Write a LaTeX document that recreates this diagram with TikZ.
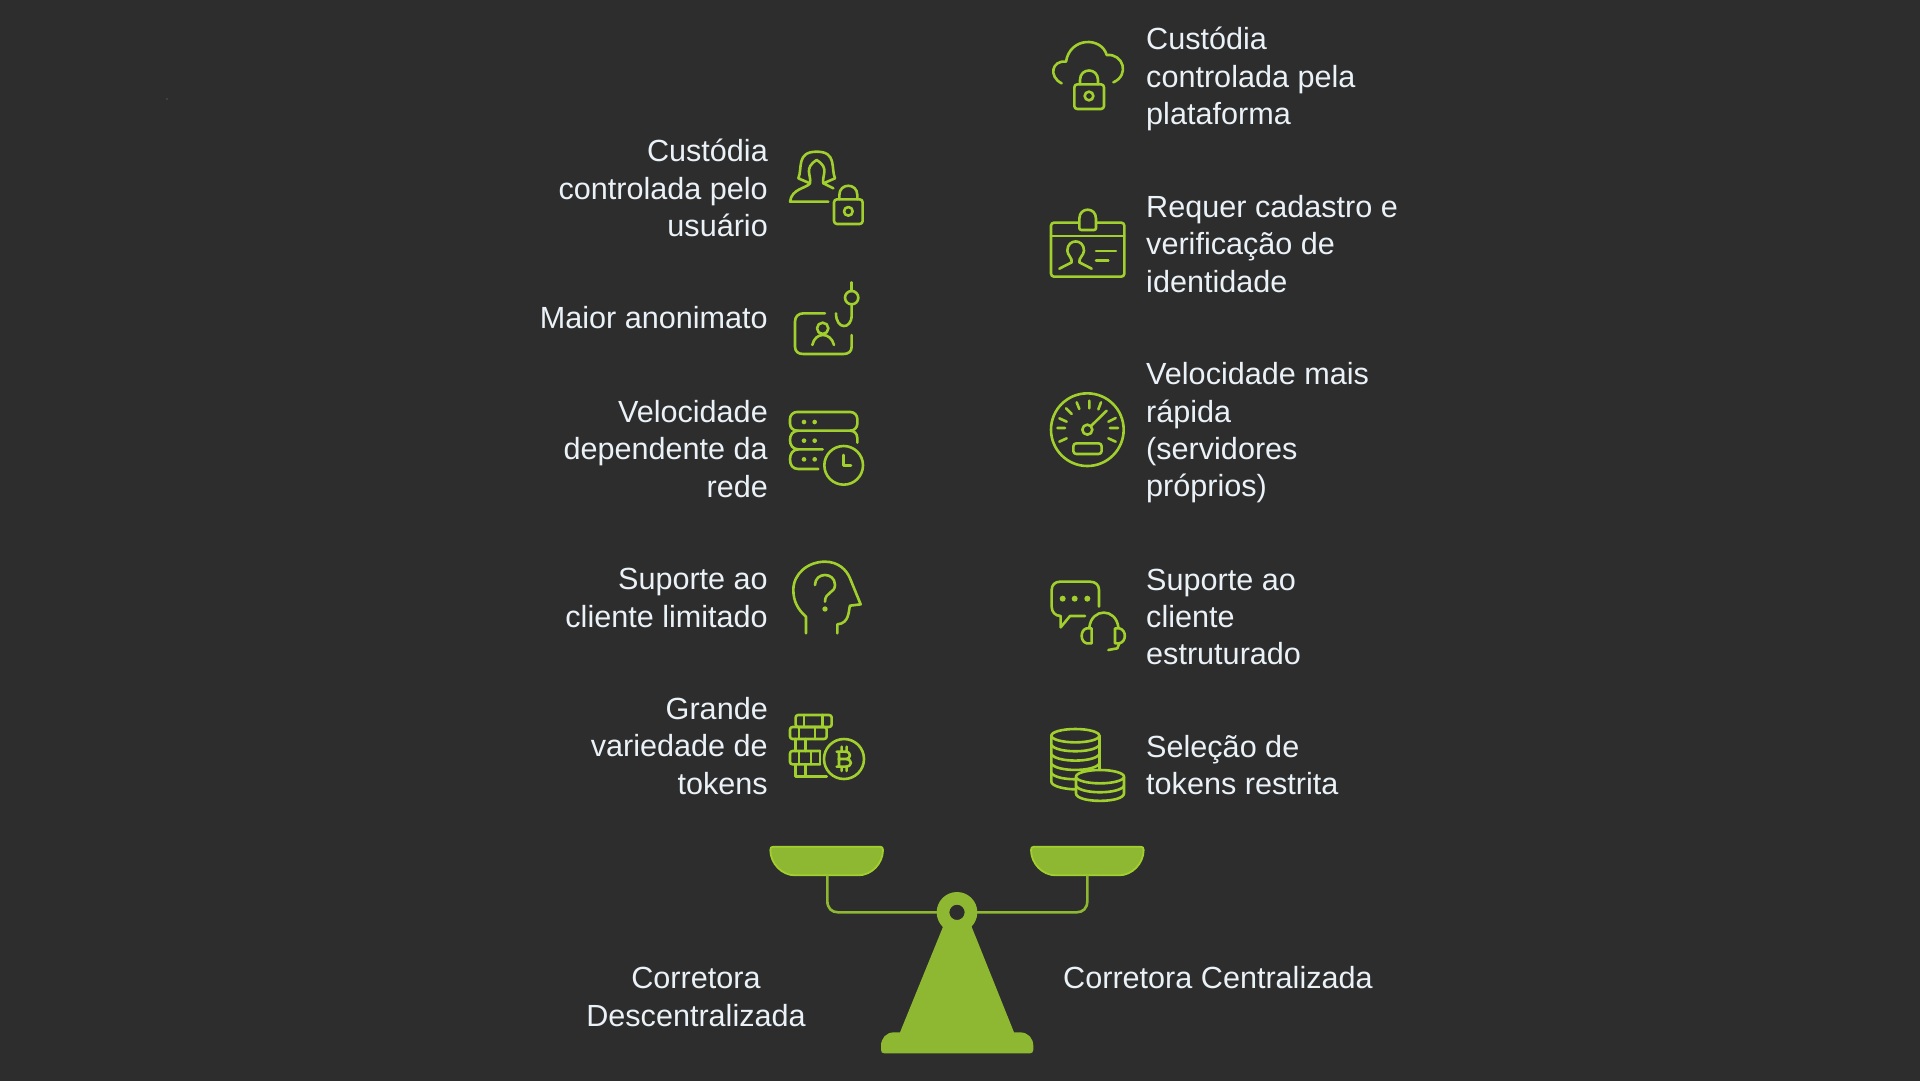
\documentclass[tikz,border=0pt]{standalone}
\usepackage{fontspec}
\setmainfont{Liberation Sans}
\definecolor{bgc}{HTML}{2D2D2D}
\definecolor{lime}{HTML}{A0CF2E}
\definecolor{pan}{HTML}{8FB832}
\definecolor{txt}{HTML}{EAF1F7}
\tikzset{
  lbl/.style={text=txt,inner sep=0pt,font=\fontsize{30.6}{37.3}\selectfont},
  lblr/.style={lbl,align=right,anchor=east},
  lbll/.style={lbl,align=left,anchor=west},
  ic/.style={draw=lime,line width=2.6pt,line cap=round,line join=round},
  dot/.style={fill=lime,draw=none},
  zoomed/.style={shift={#1},x=.33333pt,y=-.33333pt},
}
\begin{document}
\begin{tikzpicture}[x=1pt,y=-1pt]
\useasboundingbox (0,0) rectangle (1920,1080);
\fill[bgc] (-3,-3) rectangle (1923,1083);
\fill[gray] (167,99) circle (0.6);
% labels
\node[lblr] (l1) at (768,188) {Custódia\\controlada pelo\\usuário};
\node[lblr] (l2) at (768,318) {Maior anonimato};
\node[lblr] (l3) at (768,449) {Velocidade\\dependente da\\rede};
\node[lblr] (l4) at (768,598) {Suporte ao\\cliente limitado};
\node[lblr] (l5) at (768,746) {Grande\\variedade de\\tokens};
\node[lbll] (r1) at (1146,79) {Custódia\\controlada pela\\plataforma};
\node[lbll] (r2) at (1146,244) {Requer cadastro e\\verificação de\\identidade};
\node[lbll] (r3) at (1146,433) {Velocidade mais\\rápida\\(servidores\\próprios)};
\node[lbll] (r4) at (1146,617) {Suporte ao\\cliente\\estruturado};
\node[lbll] (r5) at (1146,765) {Seleção de\\tokens restrita};
\node[lbl,align=center] (dex) at (696,997) {Corretora\\Descentralizada};
\node[lbll] (cex) at (1063,978) {Corretora Centralizada};
% user + lock, hook
\begin{scope}[zoomed={(760,130)}]
\draw[ic] (150,160) -- (115,145) .. controls (128,115) and (108,65) .. (170,65) .. controls (232,65) and (212,115) .. (225,145) -- (190,160) -- (220,175);
\draw[ic] (150,160) .. controls (155,135) and (130,115) .. (170,90) .. controls (210,115) and (185,135) .. (190,160);
\draw[ic] (150,160) .. controls (140,175) and (95,175) .. (90,215) -- (205,215);
\draw[ic,rounded corners=3pt] (222,208) rectangle (308,282);
\draw[ic] (238,208) -- (238,195) .. controls (238,158) and (292,158) .. (292,195) -- (292,208);
\draw[ic] (265,244) circle[radius=13];
\draw[ic] (195,550) -- (130,550) .. controls (115,550) and (105,560) .. (105,575) -- (105,650) .. controls (105,665) and (115,672) .. (130,672) -- (250,672) .. controls (265,672) and (275,665) .. (275,650) -- (275,615);
\draw[ic] (188,595) circle[radius=17];
\draw[ic] (157,645) .. controls (165,605) and (212,605) .. (222,645);
\draw[ic] (275,457) -- (275,483);
\draw[ic] (275,503) circle[radius=20];
\draw[ic] (275,523) -- (275,555) .. controls (275,600) and (228,600) .. (228,550);
\end{scope}
% server + clock, head
\begin{scope}[zoomed={(770,390)}]
\draw[ic,rounded corners=7pt] (60,66) rectangle (262,122);
\draw[ic] (262,158) -- (262,145) .. controls (262,130) and (252,122) .. (240,122);
\draw[ic] (85,122) .. controls (68,122) and (60,135) .. (60,150) .. controls (60,165) and (68,178) .. (85,178) -- (158,178);
\draw[ic] (85,178) .. controls (68,178) and (60,192) .. (60,208) .. controls (60,225) and (68,237) .. (85,237) -- (145,237);
\foreach \yy in {96,152,208}{\fill[dot] (102,\yy) circle[radius=7]; \fill[dot] (134,\yy) circle[radius=7];}
\draw[ic] (221,226) circle[radius=58];
\draw[ic] (220,195) -- (220,227) -- (243,227);
\draw[ic] (108,730) -- (108,680) .. controls (85,660) and (70,635) .. (70,600) .. controls (70,550) and (115,515) .. (165,515) .. controls (205,515) and (230,540) .. (240,565) -- (272,643) -- (240,647) .. controls (235,660) and (240,700) .. (202,703) -- (202,730);
\draw[ic] (135,585) .. controls (135,545) and (195,545) .. (195,585) .. controls (195,610) and (165,605) .. (165,635);
\fill[dot] (165,657) circle[radius=8];
\end{scope}
% bitcoin bricks
\begin{scope}[zoomed={(785,705)}]
\draw[ic,rounded corners=2.5pt] (32,30) rectangle (140,66);
\draw[ic,rounded corners=2.5pt] (15,66) rectangle (125,102);
\draw[ic] (57,30) -- (57,66) (112,30) -- (112,66) (42,66) -- (42,102) (90,66) -- (90,102);
\draw[ic] (32,102) -- (32,138) (62,102) -- (62,138);
\draw[ic,rounded corners=2.5pt] (105,138) -- (15,138) -- (15,178) -- (105,178);
\draw[ic] (105,138) -- (105,178) (42,138) -- (42,178) (78,138) -- (78,178);
\draw[ic] (125,215) -- (32,215) -- (32,178) (62,178) -- (62,215);
\draw[ic] (177,162) circle[radius=60];
\draw[ic] (155,140) -- (180,140) .. controls (200,140) and (200,162) .. (180,162) -- (160,162) (180,162) .. controls (204,162) and (204,185) .. (180,185) -- (155,185) (162,140) -- (162,185) (170,125) -- (170,140) (185,125) -- (185,140) (170,185) -- (170,198) (185,185) -- (185,198);
\end{scope}
% cloud + lock, id card
\begin{scope}[zoomed={(1030,30)}]
\draw[ic] (95,160) .. controls (55,140) and (65,90) .. (108,95) .. controls (120,20) and (215,20) .. (230,75) .. controls (280,70) and (300,135) .. (250,157);
\draw[ic,rounded corners=3pt] (133,163) rectangle (222,237);
\draw[ic] (150,163) -- (150,150) .. controls (150,112) and (204,112) .. (204,150) -- (204,163);
\draw[ic] (177,198) circle[radius=13];
\draw[ic,rounded corners=3pt] (63,578) rectangle (283,740);
\draw[ic] (63,618) -- (283,618);
\draw[ic,fill=bgc,rounded corners=2pt] (148,600) -- (148,572) .. controls (148,530) and (198,530) .. (198,572) -- (198,600) -- cycle;
\draw[ic] (88,716) -- (125,697) .. controls (128,685) and (112,675) .. (112,662) .. controls (112,625) and (162,625) .. (162,662) .. controls (162,675) and (145,685) .. (148,697) -- (185,716);
\draw[ic] (198,663) -- (258,663) (198,692) -- (235,692);
\end{scope}
% gauge, chat + headset
\begin{scope}[zoomed={(1030,380)}]
\draw[ic] (172,149) circle[radius=109];
\draw[ic] (178,62) -- (178,85) (140,67) -- (148,87) (108,85) -- (125,102) (88,115) -- (110,125) (82,144) -- (105,144) (88,185) -- (110,175) (213,67) -- (205,88) (235,125) -- (257,114) (240,144) -- (264,144) (235,175) -- (257,185);
\draw[ic] (230,92) -- (183,138);
\draw[ic] (172,149) circle[radius=15];
\draw[ic,rounded corners=3pt] (130,190) rectangle (215,222);
\draw[ic] (165,708) -- (120,708) -- (92,742) -- (92,708) .. controls (75,708) and (65,695) .. (65,680) -- (65,630) .. controls (65,615) and (75,605) .. (90,605) -- (180,605) .. controls (197,605) and (207,615) .. (207,630) -- (207,680);
\foreach \xx in {98,134,172}{\fill[dot] (\xx,656) circle[radius=9];}
\draw[ic] (178,742) .. controls (185,683) and (258,683) .. (265,742);
\draw[ic] (185,745) -- (170,745) .. controls (150,750) and (150,785) .. (170,790) -- (185,790) -- cycle;
\draw[ic] (255,745) -- (268,745) .. controls (290,750) and (290,785) .. (268,790) -- (255,790) -- cycle;
\draw[ic] (268,790) -- (262,805) -- (235,810);
\end{scope}
% coins
\begin{scope}[zoomed={(1030,710)}]
\draw[ic] (64,77) -- (64,215) .. controls (64,230) and (110,238) .. (136,238);
\draw[ic] (208,77) -- (208,180);
\draw[ic] (136,77) ellipse[x radius=72,y radius=20];
\foreach \yy in {105,133,161,189}{\draw[ic] (64,\yy) .. controls (80,\yy+25) and (192,\yy+25) .. (208,\yy);}
\draw[ic,fill=bgc] (138,200) -- (138,250) .. controls (138,280) and (282,280) .. (282,250) -- (282,200) -- cycle;
\draw[ic,fill=bgc] (210,200) ellipse[x radius=72,y radius=20];
\draw[ic] (138,228) .. controls (154,253) and (266,253) .. (282,228);
\end{scope}
% scale
\begin{scope}[zoomed={(770,690)}]
\foreach \dd in {0,782}{
 \draw[draw=lime,fill=pan,line width=1.8pt,line join=round,shift={(\dd,0)}] (10,470) -- (330,470) .. controls (336,470) and (339,473) .. (339,480) .. controls (339,520) and (305,556) .. (265,556) -- (75,556) .. controls (35,556) and (1,520) .. (1,480) .. controls (1,473) and (4,470) .. (10,470) -- cycle;
}
\draw[pan,line width=2.6pt] (172,556) -- (172,632) .. controls (172,655) and (185,667) .. (205,667) -- (510,667);
\draw[pan,line width=2.6pt] (952,556) -- (952,632) .. controls (952,655) and (939,667) .. (919,667) -- (610,667);
\fill[pan,even odd rule] (561,667) circle[radius=61] (561,667) circle[radius=23];
\fill[pan] (520,708) -- (604,708) -- (732,1027) -- (750,1027) .. controls (775,1027) and (790,1045) .. (790,1068) -- (790,1080) .. controls (790,1087) and (785,1090) .. (780,1090) -- (343,1090) .. controls (337,1090) and (333,1087) .. (333,1080) -- (333,1068) .. controls (333,1045) and (348,1027) .. (372,1027) -- (390,1027) -- cycle;
\end{scope}
\end{tikzpicture}
\end{document}
